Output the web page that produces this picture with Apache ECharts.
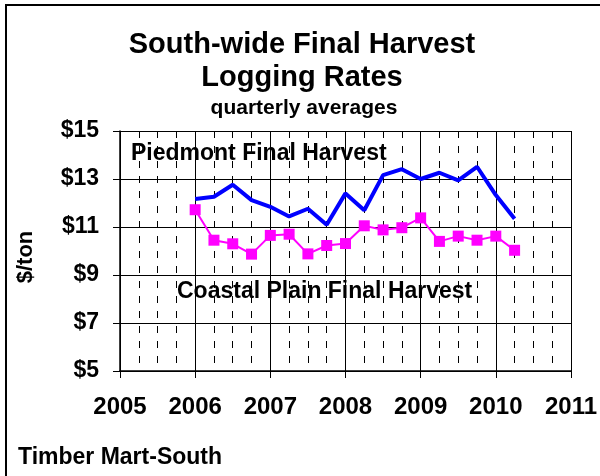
<!DOCTYPE html>
<html>
<head>
<meta charset="utf-8">
<script src="https://cdn.jsdelivr.net/npm/echarts@6/dist/echarts.min.js"></script>
<style>
html,body{margin:0;padding:0;background:#fff;}
#c{width:600px;height:476px;}
</style>
</head>
<body>
<div id="c"></div>
<script>
// Quarter positions (decimal years)
var quarters = [2006.00, 2006.25, 2006.50, 2006.75, 2007.00, 2007.25, 2007.50, 2007.75,
                2008.00, 2008.25, 2008.50, 2008.75, 2009.00, 2009.25, 2009.50, 2009.75,
                2010.00, 2010.25];
// $/ton
var piedmont = [12.17, 12.26, 12.76, 12.12, 11.84, 11.44, 11.76, 11.09,
                12.40, 11.70, 13.16, 13.41, 13.00, 13.26, 12.94, 13.51,
                12.33, 11.34];
var coastal  = [11.72, 10.45, 10.30, 9.87, 10.65, 10.70, 9.88, 10.23,
                10.31, 11.05, 10.88, 10.97, 11.38, 10.40, 10.62, 10.45,
                10.62, 10.03];
var xTicks = [2005, 2006, 2007, 2008, 2009, 2010, 2011];
var yTicks = [5, 7, 9, 11, 13, 15];

var titleLines = ['South-wide Final Harvest', 'Logging Rates', 'quarterly averages'];
var seriesNames = ['Piedmont Final Harvest', 'Coastal Plain Final Harvest'];
var yAxisName = '$/ton';
var sourceText = 'Timber Mart-South';

function pairs(xs, ys){ return xs.map(function(x,i){ return [x, ys[i]]; }); }

var FONT = 'Liberation Sans, Arial, sans-serif';
var chart = echarts.init(document.getElementById('c'), null, {renderer:'canvas'});
chart.setOption({
  animation: false,
  backgroundColor: '#ffffff',
  grid: {left: 120, top: 131, right: 28, bottom: 105, containLabel: false},
  xAxis: {
    type: 'value',
    min: xTicks[0], max: xTicks[xTicks.length-1], interval: 1,
    axisLine: {show: true, onZero: false, lineStyle: {color: '#000', width: 1.5}},
    axisTick: {show: true, length: 7, inside: false, lineStyle: {color: '#000', width: 1}},
    axisLabel: {show: true, margin: 24, color: '#000', fontSize: 24, fontWeight: 'bold', fontFamily: FONT,
                formatter: function(v){ return String(v); }},
    splitLine: {show: true, lineStyle: {color: '#000', width: 1}},
    minorTick: {show: false, splitNumber: 4},
    minorSplitLine: {show: true, lineStyle: {color: '#000', width: 1, type: [7, 8], dashOffset: 0}}
  },
  yAxis: {
    type: 'value',
    min: yTicks[0], max: yTicks[yTicks.length-1], interval: 2,
    axisLine: {show: true, lineStyle: {color: '#000', width: 1.5}},
    axisTick: {show: true, length: 7, inside: false, lineStyle: {color: '#000', width: 1}},
    axisLabel: {show: true, margin: 21, color: '#000', fontSize: 23, fontWeight: 'bold', fontFamily: FONT,
                formatter: function(v){ return '$' + v; }},
    splitLine: {show: true, lineStyle: {color: '#000', width: 1}}
  },
  series: [
    {
      name: seriesNames[0], type: 'line', data: pairs(quarters, piedmont),
      showSymbol: false, symbol: 'none',
      lineStyle: {color: '#0000ff', width: 4}, itemStyle: {color: '#0000ff'}, z: 3
    },
    {
      name: seriesNames[1], type: 'line', data: pairs(quarters, coastal),
      symbol: 'rect', symbolSize: 11, showSymbol: true,
      lineStyle: {color: '#ff00ff', width: 2}, itemStyle: {color: '#ff00ff'}, z: 4
    }
  ],
  graphic: [
    {type: 'rect', shape: {x: 6, y: 5, width: 700, height: 700}, style: {fill: 'none', stroke: '#000', lineWidth: 2}, silent: true},
    {type: 'text', x: 302, y: 45, style: {text: titleLines[0], font: 'bold 29px ' + FONT, fill: '#000', textAlign: 'center', textVerticalAlign: 'middle'}},
    {type: 'text', x: 302, y: 78, style: {text: titleLines[1], font: 'bold 29px ' + FONT, fill: '#000', textAlign: 'center', textVerticalAlign: 'middle'}},
    {type: 'text', x: 304, y: 108, style: {text: titleLines[2], font: 'bold 21px ' + FONT, fill: '#000', textAlign: 'center', textVerticalAlign: 'middle'}},
    {type: 'text', x: 131, y: 154, z: 10, style: {text: seriesNames[0], font: 'bold 23px ' + FONT, fill: '#000', textAlign: 'left', textVerticalAlign: 'middle'}},
    {type: 'text', x: 177, y: 292, z: 10, style: {text: seriesNames[1], font: 'bold 23px ' + FONT, fill: '#000', textAlign: 'left', textVerticalAlign: 'middle'}},
    {type: 'text', x: 26, y: 257, rotation: Math.PI/2, style: {text: yAxisName, font: 'bold 22px ' + FONT, fill: '#000', textAlign: 'center', textVerticalAlign: 'middle'}},
    {type: 'text', x: 18, y: 458, style: {text: sourceText, font: 'bold 23px ' + FONT, fill: '#000', textAlign: 'left', textVerticalAlign: 'middle'}}
  ]
});
</script>
</body>
</html>
